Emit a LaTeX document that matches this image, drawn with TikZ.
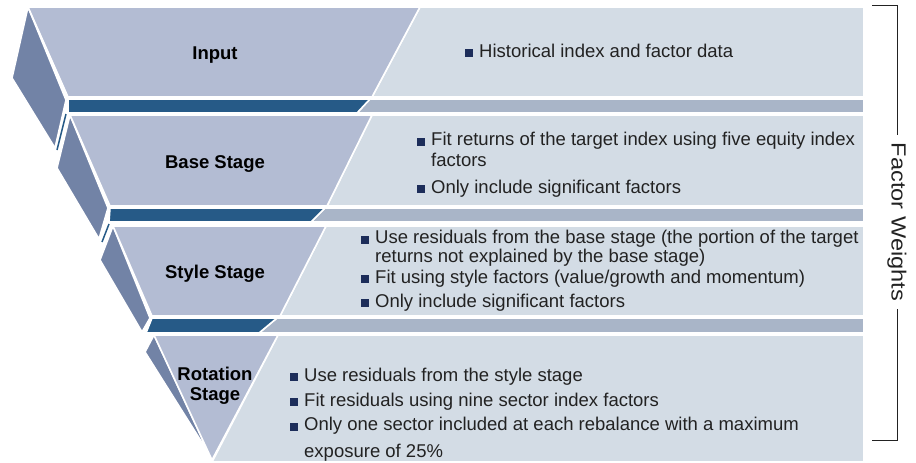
\documentclass[tikz,border=0pt]{standalone}
\usepackage{fontspec}
\setmainfont{Liberation Sans}
\usepackage{graphicx}
\usetikzlibrary{positioning}
\definecolor{frontblue}{HTML}{B3BCD3}
\definecolor{sideblue}{HTML}{7283A6}
\definecolor{bandblue}{HTML}{265A87}
\definecolor{bandgrey}{HTML}{A9B5C8}
\definecolor{panelgrey}{HTML}{D3DCE5}
\definecolor{bulletnavy}{HTML}{1C2D5A}
\definecolor{textgrey}{HTML}{222222}
\newcommand{\sqbul}{\llap{\textcolor{bulletnavy}{\rule{8pt}{8pt}}\hspace{6.5pt}}}
\tikzset{
	face/.style={draw=white, line width=1.6pt, line join=round},
	front/.style={face, fill=frontblue},
	side/.style={face, fill=sideblue},
	band/.style={face, fill=bandblue},
	strip/.style={face, fill=bandgrey},
	panel/.style={face, fill=panelgrey},
	edge/.style={bandblue, line width=1.5pt},
	stagelabel/.style={font=\fontsize{18.5}{20}\selectfont\bfseries, align=center, text=black},
	item/.style={font=\fontsize{18.5}{17}\selectfont, anchor=base west, align=left, text=textgrey, inner sep=0pt},
}

\begin{document}
\begin{tikzpicture}[x=1pt, y=-1pt]
	\useasboundingbox (0,0) rectangle (916,463);

	\draw[panel] (420,7) -- (864,7) -- (864,97) -- (372,97) -- cycle;
	\draw[strip] (370,99) -- (864,99) -- (864,113) -- (357,113) -- cycle;
	\draw[band] (68,99) -- (370,99) -- (357,113) -- (68,113) -- cycle;
	\draw[side] (28,7) -- (12,78) -- (55,148) -- (66,100) -- cycle;
	\draw[edge] (66,114) -- (57,150);
	\draw[front] (28,7) -- (420,7) -- (372,97) -- (68,97) -- cycle;

	\draw[panel] (372,115) -- (864,115) -- (864,206) -- (327,206) -- cycle;
	\draw[strip] (325,208) -- (864,208) -- (864,222) -- (311,222) -- cycle;
	\draw[band] (110,208) -- (325,208) -- (311,222) -- (109,222) -- cycle;
	\draw[side] (70,115) -- (57,168) -- (99,239) -- (108,208) -- cycle;
	\draw[edge] (109,224) -- (102,242);
	\draw[front] (70,115) -- (372,115) -- (327,206) -- (110,206) -- cycle;

	\draw[panel] (326,226) -- (864,226) -- (864,316) -- (280,316) -- cycle;
	\draw[strip] (277,318) -- (864,318) -- (864,333) -- (259,333) -- cycle;
	\draw[band] (152,318) -- (277,318) -- (259,333) -- (146,333) -- cycle;
	\draw[side] (113,226) -- (100,260) -- (142,332) -- (150,318) -- cycle;
	\draw[front] (113,226) -- (326,226) -- (280,316) -- (152,316) -- cycle;

	\draw[panel] (278,335) -- (864,335) -- (864,462) -- (212,462) -- cycle;
	\draw[side] (154,335) -- (145,352) -- (201,441) -- (207,449) -- cycle;
	\draw[front] (154,335) -- (278,335) -- (212,460) -- cycle;

	\node[stagelabel, anchor=base] (input) at (215,59) {Input};
	\node[stagelabel, anchor=base] (base) at (215,168) {Base Stage};
	\node[stagelabel, anchor=base] (style) at (215,278) {Style Stage};
	\node[stagelabel, anchor=base] (rotation) at (215,400) {Rotation\\Stage};

	\node[item] (in1) at (479,57) {\sqbul Historical index and factor data};
	\node[item] (b1) at (431,166) {\sqbul Fit returns of the target index using five equity index\\[2pt]factors};
	\node[item] (b2) at (431,193) {\sqbul Only include significant factors};
	\node[item] (s1) at (375,262) {\sqbul Use residuals from the base stage (the portion of the target\\returns not explained by the base stage)};
	\node[item] (s2) at (375,283) {\sqbul Fit using style factors (value/growth and momentum)};
	\node[item] (s3) at (375,307) {\sqbul Only include significant factors};
	\node[item] (r1) at (304,381) {\sqbul Use residuals from the style stage};
	\node[item] (r2) at (304,406) {\sqbul Fit residuals using nine sector index factors};
	\node[item] (r3) at (304,457) {\sqbul Only one sector included at each rebalance with a maximum\\[8pt]exposure of 25\%};

	\node[rotate=-90, text=textgrey, inner sep=8pt] (weights) at (897,222)
		{\scalebox{1.15}[1]{\fontsize{20.5}{22}\selectfont Factor Weights}};
	\coordinate (wtop) at (872,5);
	\coordinate (wbot) at (872,440);
	\draw[textgrey, line width=1pt] (wtop) -| (weights.west);
	\draw[textgrey, line width=1pt] (wbot) -| (weights.east);
\end{tikzpicture}
\end{document}
